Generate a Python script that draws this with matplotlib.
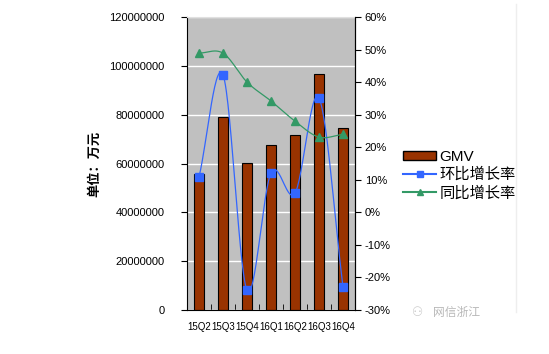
import numpy as np
import matplotlib
matplotlib.use('Agg')
import matplotlib.pyplot as plt
from matplotlib.lines import Line2D
from matplotlib.patches import Patch

quarters = ['15Q2', '15Q3', '15Q4', '16Q1', '16Q2', '16Q3', '16Q4']
gmv = [55700000, 79000000, 60200000, 67500000, 71700000, 96600000, 74500000]
huanbi = [10.8, 42.2, -23.9, 12.1, 5.9, 35.1, -22.9]
tongbi = [48.9, 48.9, 40.0, 34.2, 28.0, 23.1, 24.0]

plt.rcParams['font.family'] = ['Liberation Sans', 'Noto Sans CJK SC', 'DejaVu Sans']


def smooth(xs, ys, n=30):
    """Catmull-Rom сглаживание линии, как в Excel"""
    xs = np.asarray(xs, float)
    ys = np.asarray(ys, float)
    px = np.concatenate([[2 * xs[0] - xs[1]], xs, [2 * xs[-1] - xs[-2]]])
    py = np.concatenate([[2 * ys[0] - ys[1]], ys, [2 * ys[-1] - ys[-2]]])
    out_x, out_y = [], []
    t = np.linspace(0, 1, n)
    for i in range(1, len(px) - 2):
        for p, out in ((px, out_x), (py, out_y)):
            p0, p1, p2, p3 = p[i - 1], p[i], p[i + 1], p[i + 2]
            out.extend(0.5 * (2 * p1 + (-p0 + p2) * t
                              + (2 * p0 - 5 * p1 + 4 * p2 - p3) * t ** 2
                              + (-p0 + 3 * p1 - 3 * p2 + p3) * t ** 3))
    return out_x, out_y


fig = plt.figure(figsize=(5.49, 3.54), dpi=100)
ax = fig.add_axes([187 / 549, 1 - 310 / 354, 168 / 549, 293 / 354])
ax.set_facecolor('#c0c0c0')
x = np.arange(len(quarters))

ax.set_axisbelow(True)
ax.yaxis.grid(True, color='white', linewidth=1)
ax.bar(x, gmv, width=0.42, color='#993300', edgecolor='black', linewidth=0.8)
ax.set_xlim(-0.5, len(quarters) - 0.5)
ax.set_ylim(0, 120000000)
ax.set_yticks(range(0, 120000001, 20000000))
ax.set_yticklabels([str(v) for v in range(0, 120000001, 20000000)], fontsize=8)
ax.set_xticks(x)
ax.set_xticklabels(quarters, fontsize=7)
ax.tick_params(axis='x', length=0, pad=9)
ax.set_xticks(np.arange(-0.5, len(quarters)), minor=True)
ax.tick_params(axis='x', which='minor', direction='in', length=4)
ax.tick_params(axis='y', direction='out', length=4, pad=12)
ax.spines['top'].set_color('#e0e0e0')
ax.set_ylabel('单位：万元', fontsize=9.5, fontweight='bold', labelpad=6)

ax2 = ax.twinx()
ax2.set_ylim(-30, 60)
ax2.set_yticks(range(-30, 61, 10))
ax2.set_yticklabels([f'{v}%' for v in range(-30, 61, 10)], fontsize=8)
ax2.tick_params(axis='y', direction='out', length=4, pad=3)
for s in ('top', 'left', 'bottom'):
    ax2.spines[s].set_visible(False)

sx, sy = smooth(x, huanbi)
ax2.plot(sx, sy, color='#3366ff', linewidth=0.9)
ax2.plot(x, huanbi, 's', color='#3366ff', markersize=6)
sx, sy = smooth(x, tongbi)
ax2.plot(sx, sy, color='#339966', linewidth=0.9)
ax2.plot(x, tongbi, '^', color='#339966', markersize=6)

handles = [Patch(facecolor='#993300', edgecolor='black'),
           Line2D([], [], color='#3366ff', marker='s', markersize=5),
           Line2D([], [], color='#339966', marker='^', markersize=5)]
fig.legend(handles, ['GMV', '环比增长率', '同比增长率'], loc='upper left',
           bbox_to_anchor=(389 / 549, 1 - 136 / 354), frameon=False,
           fontsize=11, handlelength=2.2, handleheight=0.5, handletextpad=0.2,
           labelspacing=0.25)

fig.text(457 / 549, 1 - 313 / 354, '网信浙江', color='#b8b8b8', fontsize=8.5,
         ha='center', va='center')
fig.text(418 / 549, 1 - 313 / 354, '⚇', color='#c8c8c8', fontsize=9,
         ha='center', va='center', family=['DejaVu Sans'])
fig.add_artist(Line2D([516 / 549, 516 / 549], [0.12, 0.99], color='#eeeeee', linewidth=1))

fig.savefig('out.png', dpi=100)
